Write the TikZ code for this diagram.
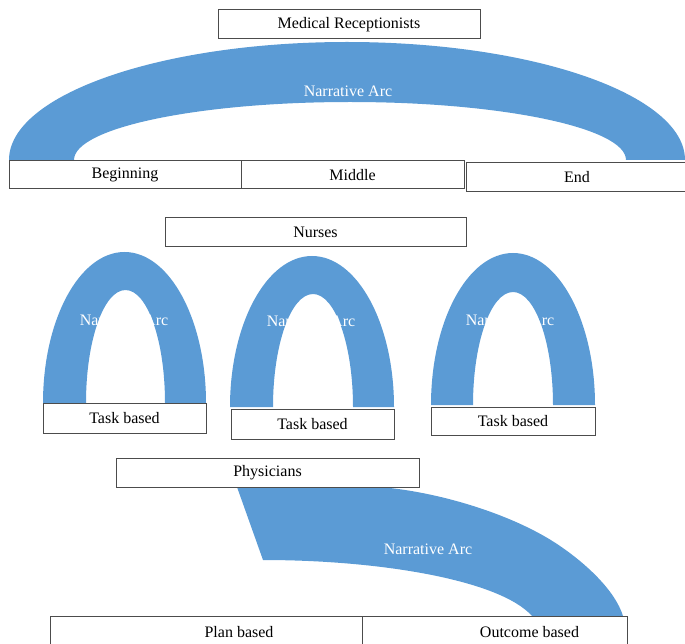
\documentclass[tikz,border=0pt]{standalone}
\usepackage{fontspec}
\setmainfont{Liberation Serif}
\definecolor{arcblue}{RGB}{91,155,213}
\tikzset{
  labelbox/.style={draw=black!70, line width=1pt, fill=white, inner sep=0pt,
    font=\fontsize{16}{19}\selectfont},
  arctext/.style={text=white, font=\fontsize{16}{19}\selectfont}
}

\begin{document}
\begin{tikzpicture}[x=1pt, y=-1pt]
\useasboundingbox (0,0) rectangle (685,644);
% Medical receptionists: one wide arc
\fill[arcblue] (9,160) arc[start angle=180, end angle=0, x radius=338pt, y radius=118pt]
  -- (626,160) arc[start angle=0, end angle=180, x radius=276pt, y radius=58pt] -- cycle;
\node[arctext] (arcmed) at (348,91) {Narrative Arc};
\node[labelbox, minimum width=262pt, minimum height=29pt] (medrec) at (349,24.5) {Medical Receptionists};
\node[labelbox, minimum width=232pt, minimum height=28pt] (begin) at (125,175) {Beginning};
\node[labelbox, minimum width=223pt, minimum height=28pt] (middle) at (352.5,175) {Middle};
\node[labelbox, minimum width=222pt, minimum height=29pt] (end) at (577,177.5) {End};

% Nurses: three small arcs
\node[labelbox, minimum width=301pt, minimum height=29pt] (nurses) at (315.5,232.5) {Nurses};
\fill[arcblue] (43,403) arc[start angle=180, end angle=0, x radius=81.5pt, y radius=151pt]
  -- (165,403) arc[start angle=0, end angle=180, x radius=39.5pt, y radius=113pt] -- cycle;
\fill[arcblue] (230,407) arc[start angle=180, end angle=0, x radius=82pt, y radius=151pt]
  -- (353,407) arc[start angle=0, end angle=180, x radius=40pt, y radius=113pt] -- cycle;
\fill[arcblue] (431,405) arc[start angle=180, end angle=0, x radius=82pt, y radius=152pt]
  -- (553,405) arc[start angle=0, end angle=180, x radius=40pt, y radius=113pt] -- cycle;
\node[arctext] (arcnurse1) at (124,320) {Narrative Arc};
\node[arctext] (arcnurse2) at (311,321) {Narrative Arc};
\node[arctext] (arcnurse3) at (510,320) {Narrative Arc};
\node[labelbox, minimum width=163pt, minimum height=30pt] (task1) at (124.5,418) {Task based};
\node[labelbox, minimum width=163pt, minimum height=30pt] (task2) at (312.5,424) {Task based};
\node[labelbox, minimum width=164pt, minimum height=28pt] (task3) at (513,421) {Task based};

% Physicians: part of an arc
\fill[arcblue] (237,487) -- (380,487)
  .. controls (440,492) and (515,515) .. (560,546)
  .. controls (585,563) and (615,590) .. (623,616)
  -- (532,616) .. controls (500,580) and (380,560) .. (263,560) -- cycle;
\node[arctext] (arcphys) at (428,549) {Narrative Arc};
\node[labelbox, minimum width=303pt, minimum height=29pt] (phys) at (267.5,472.5) {Physicians};
\node[labelbox, minimum width=312pt, minimum height=40pt,
  label={[font=\fontsize{16}{19}\selectfont, xshift=33pt, yshift=4pt]center:Plan based}] (plan) at (206,636) {};
\node[labelbox, minimum width=265pt, minimum height=40pt,
  label={[font=\fontsize{16}{19}\selectfont, xshift=35pt, yshift=4pt]center:Outcome based}] (outcome) at (494.5,636) {};
\end{tikzpicture}
\end{document}
